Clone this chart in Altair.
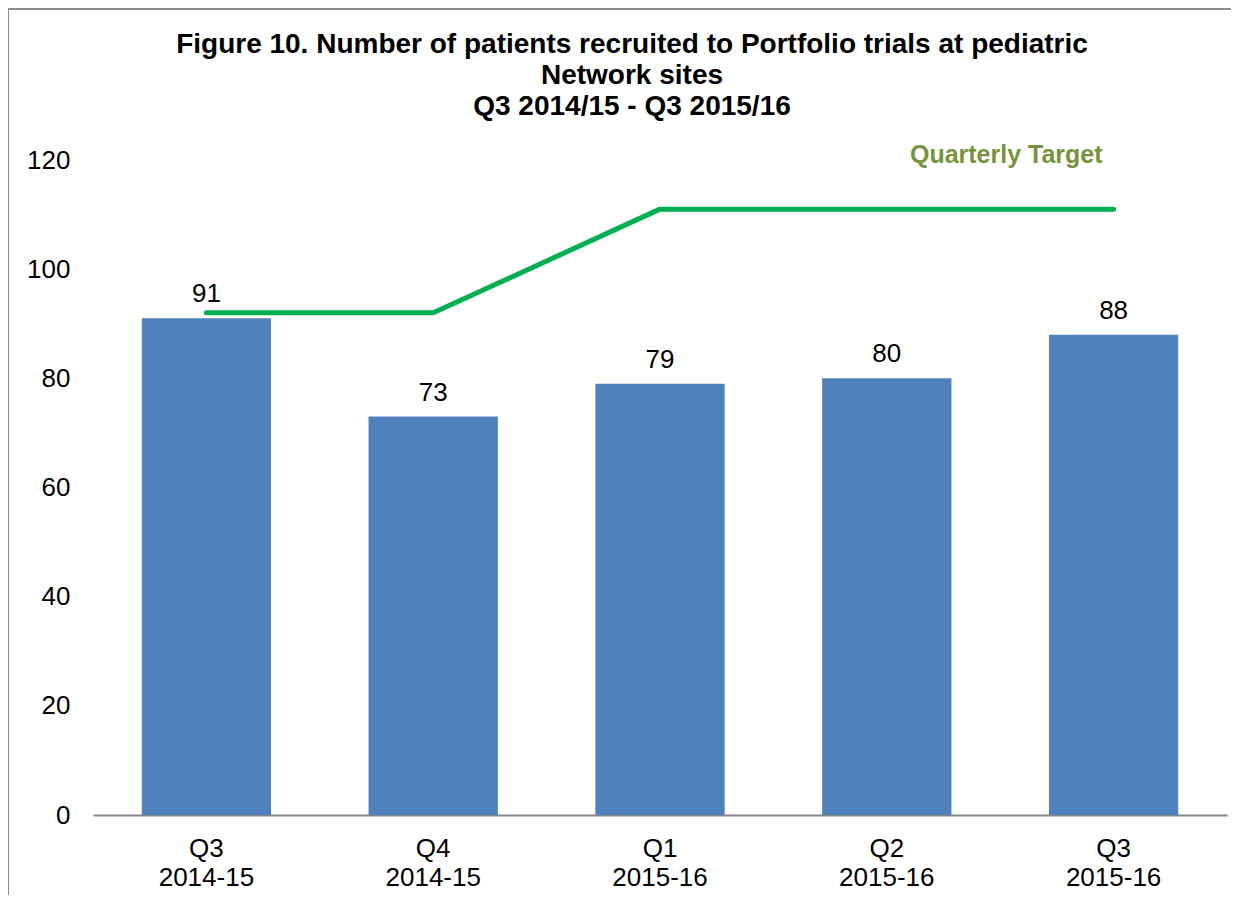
import altair as alt
import pandas as pd

quarters = ["Q3 2014-15", "Q4 2014-15", "Q1 2015-16", "Q2 2015-16", "Q3 2015-16"]
recruited = [91, 73, 79, 80, 88]
target = [92, 92, 111, 111, 111]
y_ticks = [0, 20, 40, 60, 80, 100, 120]
title_lines = [
    "Figure 10. Number of patients recruited to Portfolio trials at pediatric",
    "Network sites",
    "Q3 2014/15 - Q3 2015/16",
]
target_label = "Quarterly Target"

df = pd.DataFrame({"quarter": quarters, "recruited": recruited, "target": target})
FONT = "Liberation Sans"
LBL = 26

x_enc = alt.X(
    "quarter:N",
    sort=quarters,
    title=None,
    scale=alt.Scale(paddingInner=0.43, paddingOuter=0.215),
    axis=alt.Axis(
        labelExpr="split(datum.label, ' ')",
        labelAngle=0,
        labelFontSize=LBL,
        labelLineHeight=29,
        labelPadding=20,
        labelColor="black",
        labelFont=FONT,
        ticks=False,
        domainColor="#868686",
        domainWidth=2,
    ),
)
y_enc = alt.Y(
    "recruited:Q",
    title=None,
    scale=alt.Scale(domain=[0, 120], nice=False),
    axis=alt.Axis(
        values=y_ticks,
        grid=False,
        domain=False,
        ticks=False,
        labelFontSize=LBL,
        labelPadding=23,
        labelColor="black",
        labelFont=FONT,
    ),
)

bars = alt.Chart(df).mark_bar(color="#4F81BD").encode(x=x_enc, y=y_enc)

bar_text = alt.Chart(df).mark_text(
    baseline="alphabetic", dy=-16, fontSize=LBL, font=FONT, color="black"
).encode(
    x=alt.X("quarter:N", sort=quarters),
    y="recruited:Q",
    text="recruited:Q",
)

line = alt.Chart(df).mark_line(
    color="#00B050", strokeWidth=5, strokeCap="round", strokeJoin="round"
).encode(
    x=alt.X("quarter:N", sort=quarters),
    y="target:Q",
)

label_df = pd.DataFrame({"quarter": [quarters[-1]], "y": [120], "text": [target_label]})
target_text = alt.Chart(label_df).mark_text(
    align="right", baseline="alphabetic", dx=-11, dy=3,
    fontSize=25, fontWeight="bold", font=FONT, color="#77933C",
).encode(
    x=alt.X("quarter:N", sort=quarters),
    y="y:Q",
    text="text:N",
)

frame_left = alt.Chart(df).mark_rule(color="#8C8C8C", strokeWidth=1.5).encode(
    x=alt.value(-85), y=alt.value(-152), y2=alt.value(760)
)
frame_top = alt.Chart(df).mark_rule(color="#8C8C8C", strokeWidth=1.5).encode(
    x=alt.value(-85), x2=alt.value(1150), y=alt.value(-151)
)

chart = alt.layer(bars, line, bar_text, target_text, frame_left, frame_top).properties(
    width=1134,
    height=655,
    padding={"left": 85, "top": 152, "right": 4, "bottom": 80},
    autosize=alt.AutoSizeParams(type="none"),
    title=alt.TitleParams(
        text=title_lines,
        fontSize=28,
        fontWeight="bold",
        font=FONT,
        color="black",
        lineHeight=31,
        anchor="middle",
        frame="group",
        baseline="bottom",
        dx=-28,
        dy=142,
        offset=0,
    ),
).configure(
    background="white",
    view=alt.ViewConfig(stroke="transparent", strokeWidth=0),
)

chart.save("out.html", embed_options={"renderer": "svg", "actions": False})
